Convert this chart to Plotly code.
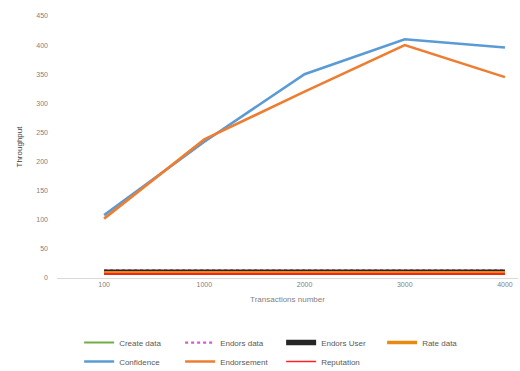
import plotly.graph_objects as go

# Transactions per run (category labels on the x axis)
transactions = ["100", "1000", "2000", "3000", "4000"]

# Throughput per operation
create_data = [10, 10, 10, 10, 10]
endors_data = [13, 13, 13, 13, 13]
endors_user = [10, 10, 10, 10, 10]
rate_data = [9, 9, 9, 9, 9]
confidence = [108, 234, 350, 410, 396]
endorsement = [102, 238, 320, 400, 345]
reputation = [7, 7, 7, 7, 7]

x_idx = list(range(len(transactions)))
FONT = "Liberation Sans"
GREY = "#7f7f7f"

fig = go.Figure()

# (name, values, colour, width, dash, legend rank)
series = [
    ("Create data", create_data, "#70AD47", 2.0, "solid", 1),
    ("Endors data", endors_data, "#D15BD1", 2.2, "dot", 2),
    ("Endors User", endors_user, "#262626", 5.5, "solid", 3),
    ("Rate data", rate_data, "#E88A12", 3.5, "solid", 4),
    ("Reputation", reputation, "#FF2020", 1.6, "solid", 7),
    ("Confidence", confidence, "#5B9BD5", 2.6, "solid", 5),
    ("Endorsement", endorsement, "#ED7D31", 2.6, "solid", 6),
]

# flat series go first so the two curves are drawn on top
for name, vals, color, width, dash, rank in series:
    fig.add_trace(go.Scatter(
        x=x_idx, y=vals, name=name, mode="lines",
        line=dict(color=color, width=width, dash=dash),
        legendrank=rank,
    ))

fig.update_layout(
    width=520, height=371,
    margin=dict(l=57, r=2, t=16, b=93, autoexpand=False),
    paper_bgcolor="white", plot_bgcolor="white",
    font=dict(family=FONT, size=8, color=GREY),
    showlegend=True,
    legend=dict(
        orientation="h", x=0.048, y=-0.191, xanchor="left", yanchor="top",
        font=dict(size=8, color="#595959"),
        entrywidth=56, entrywidthmode="pixels", itemwidth=30,
        traceorder="normal", bgcolor="rgba(0,0,0,0)",
    ),
)

fig.update_xaxes(
    tickmode="array", tickvals=x_idx, ticktext=transactions,
    range=[-0.47, 4.13],
    showgrid=False, zeroline=False,
    showline=True, linecolor="#d9d9d9", linewidth=1,
    ticks="", tickfont=dict(size=7, color=GREY),
    title=dict(text="Transactions number", font=dict(size=8, color=GREY), standoff=8),
)

fig.update_yaxes(
    range=[0, 450], dtick=50,
    showgrid=False, zeroline=False, showline=False,
    ticks="", tickfont=dict(size=7, color=GREY), ticklabelstandoff=8,
    title=dict(text="Throughput", font=dict(size=8, color="#404040"), standoff=12),
)

fig.write_html("out.html")
